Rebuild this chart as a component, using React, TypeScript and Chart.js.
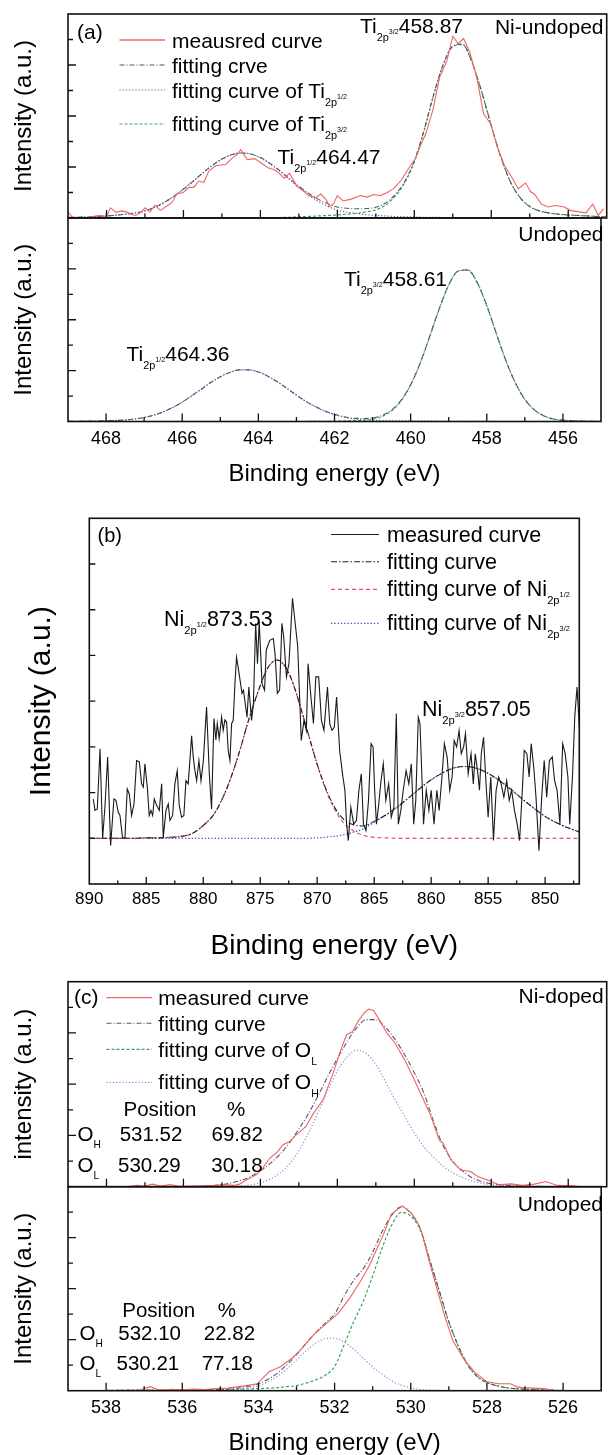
import React, { useEffect, useRef } from 'react';
import { Chart, registerables } from 'chart.js';
Chart.register(...registerables);

const FONT = '"Liberation Sans", Arial, Helvetica, sans-serif';
Chart.defaults.font.family = FONT;
Chart.defaults.color = '#000';

// ---------------- tick values ----------------
const tiXTicks = [468, 467, 466, 465, 464, 463, 462, 461, 460, 459, 458, 457, 456];
const tiXLabels = [468, 466, 464, 462, 460, 458, 456];
const niXTicks = [887.5, 885, 882.5, 880, 877.5, 875, 872.5, 870, 867.5, 865, 862.5, 860, 857.5, 855, 852.5, 850, 847.5];
const niXLabels = [890, 885, 880, 875, 870, 865, 860, 855, 850];
const oXTicks = [538, 537, 536, 535, 534, 533, 532, 531, 530, 529, 528, 527, 526];
const oXLabels = [538, 536, 534, 532, 530, 528, 526];
const stackYTicks = [1, 2, 3, 4, 5, 6, 7];
const stackYMajor = [2, 4, 6];
const niYTicks = [0, 1, 2, 3, 4, 5, 6];

// ---------------- panel (a): Ti 2p ----------------
const tiNiMeasE = [469.0, 468.9, 468.75, 468.6, 468.45, 468.3, 468.15, 468.0, 467.9, 467.75, 467.6, 467.5, 467.35, 467.25, 467.1, 467.0, 466.87, 466.74, 466.6, 466.45, 466.3, 466.17, 466.0, 465.86, 465.73, 465.6, 465.47, 465.34, 465.16, 465.03, 464.9, 464.73, 464.6, 464.51, 464.34, 464.15, 463.97, 463.79, 463.65, 463.52, 463.38, 463.24, 463.06, 462.88, 462.74, 462.56, 462.43, 462.3, 462.2, 462.1, 462.0, 461.85, 461.62, 461.4, 461.22, 461.06, 460.88, 460.7, 460.54, 460.34, 460.15, 459.97, 459.85, 459.7, 459.52, 459.34, 459.15, 459.0, 458.86, 458.72, 458.56, 458.38, 458.2, 458.02, 457.84, 457.66, 457.47, 457.3, 457.11, 456.97, 456.88, 456.7, 456.52, 456.34, 456.1, 455.95, 455.72, 455.54, 455.36, 455.22, 455.08];
const tiNiMeasI = [0.24, 0.05, 0.0, 0.02, 0.0, 0.08, 0.1, 0.05, 0.4, 0.22, 0.28, 0.25, 0.15, 0.1, 0.22, 0.4, 0.24, 0.5, 0.3, 0.45, 0.6, 0.95, 1.0, 1.2, 1.2, 1.45, 1.4, 1.84, 2.05, 2.08, 2.1, 2.35, 2.5, 2.68, 2.29, 2.33, 2.15, 1.96, 1.9, 1.76, 1.56, 1.76, 1.25, 1.06, 0.87, 0.8, 0.94, 0.74, 0.45, 0.55, 0.88, 0.67, 0.75, 0.88, 0.82, 0.92, 0.88, 1.0, 1.15, 1.48, 1.94, 2.33, 2.8, 3.31, 4.22, 5.53, 6.18, 7.13, 6.84, 7.04, 6.51, 5.53, 4.09, 3.7, 2.78, 2.07, 1.61, 1.15, 1.37, 1.02, 0.94, 0.55, 0.43, 0.49, 0.43, 0.3, 0.24, 0.2, 0.55, 0.1, 0.37];

const tiFitE = [469, 468.75, 468.5, 468.25, 468, 467.75, 467.5, 467.25, 467, 466.75, 466.5, 466.25, 466, 465.75, 465.5, 465.25, 465, 464.75, 464.5, 464.25, 464, 463.75, 463.5, 463.25, 463, 462.75, 462.5, 462.25, 462, 461.75, 461.5, 461.25, 461, 460.75, 460.5, 460.25, 460, 459.75, 459.5, 459.25, 459, 458.75, 458.5, 458.25, 458, 457.75, 457.5, 457.25, 457, 456.75, 456.5, 456.25, 456, 455.75, 455.5, 455.25, 455];
const tiNi2p12 = [0.02, 0.03, 0.04, 0.06, 0.08, 0.11, 0.15, 0.2, 0.28, 0.42, 0.61, 0.85, 1.13, 1.44, 1.76, 2.06, 2.31, 2.48, 2.55, 2.51, 2.36, 2.13, 1.84, 1.52, 1.2, 0.91, 0.66, 0.46, 0.31, 0.23, 0.18, 0.13, 0.1, 0.08, 0.06, 0.05, 0.04, 0.03, 0.03, 0.02, 0.02, 0.02, 0.01, 0.01, 0.01, 0.01, 0, 0, 0, 0, 0, 0, 0, 0, 0, 0, 0];
const tiNi2p32 = [0, 0, 0, 0, 0, 0, 0, 0, 0, 0, 0, 0, 0, 0, 0, 0, 0, 0, 0, 0, 0.01, 0.01, 0.02, 0.03, 0.05, 0.06, 0.08, 0.1, 0.12, 0.15, 0.18, 0.24, 0.32, 0.5, 0.85, 1.38, 2.2, 3.4, 4.8, 6.0, 6.72, 6.8, 6.1, 4.95, 3.62, 2.38, 1.41, 0.8, 0.45, 0.28, 0.2, 0.15, 0.12, 0.1, 0.08, 0.06, 0.05];
const tiNiFit = [0.02, 0.03, 0.04, 0.06, 0.08, 0.11, 0.15, 0.2, 0.28, 0.42, 0.61, 0.85, 1.13, 1.44, 1.76, 2.06, 2.31, 2.48, 2.55, 2.51, 2.37, 2.14, 1.86, 1.55, 1.25, 0.97, 0.74, 0.56, 0.43, 0.38, 0.36, 0.37, 0.42, 0.58, 0.91, 1.43, 2.24, 3.43, 4.83, 6.02, 6.74, 6.82, 6.11, 4.96, 3.63, 2.39, 1.41, 0.8, 0.45, 0.28, 0.2, 0.15, 0.12, 0.1, 0.08, 0.06, 0.05];
const tiUn2p12 = [0.01, 0.01, 0.02, 0.02, 0.03, 0.04, 0.06, 0.1, 0.16, 0.25, 0.38, 0.55, 0.76, 1.01, 1.27, 1.53, 1.76, 1.93, 2.03, 2.03, 1.95, 1.78, 1.56, 1.3, 1.04, 0.79, 0.58, 0.4, 0.27, 0.17, 0.1, 0.07, 0.05, 0.04, 0.03, 0.03, 0.02, 0.02, 0.02, 0.01, 0.01, 0.01, 0.01, 0.01, 0.01, 0, 0, 0, 0, 0, 0, 0, 0, 0, 0, 0, 0];
const tiUn2p32 = [0, 0, 0, 0, 0, 0, 0, 0, 0, 0, 0, 0, 0, 0, 0, 0, 0, 0, 0, 0, 0, 0, 0, 0, 0, 0, 0.01, 0.01, 0.01, 0.02, 0.03, 0.05, 0.09, 0.2, 0.42, 0.81, 1.43, 2.28, 3.33, 4.42, 5.36, 5.91, 5.95, 5.45, 4.55, 3.46, 2.4, 1.52, 0.87, 0.46, 0.22, 0.1, 0.05, 0.03, 0.02, 0.01, 0.01];
const tiUnFit = [0.01, 0.01, 0.02, 0.02, 0.03, 0.04, 0.06, 0.1, 0.16, 0.25, 0.38, 0.55, 0.76, 1.01, 1.27, 1.53, 1.76, 1.93, 2.03, 2.03, 1.95, 1.78, 1.56, 1.3, 1.04, 0.79, 0.59, 0.41, 0.28, 0.19, 0.13, 0.12, 0.14, 0.24, 0.45, 0.84, 1.45, 2.3, 3.35, 4.43, 5.37, 5.92, 5.96, 5.46, 4.56, 3.46, 2.4, 1.52, 0.87, 0.46, 0.22, 0.1, 0.05, 0.03, 0.02, 0.01, 0.01];

// ---------------- panel (b): Ni 2p ----------------
const niMeasE = [889.65, 889.5, 889.3, 889.06, 888.83, 888.63, 888.39, 888.13, 887.84, 887.66, 887.46, 887.31, 887.08, 886.87, 886.67, 886.49, 886.29, 886.08, 885.85, 885.61, 885.41, 885.26, 885.12, 884.91, 884.74, 884.59, 884.44, 884.3, 884.09, 883.86, 883.65, 883.51, 883.27, 883.07, 882.92, 882.69, 882.49, 882.28, 882.11, 881.9, 881.7, 881.52, 881.32, 881.02, 880.88, 880.73, 880.58, 880.38, 880.2, 880.0, 879.85, 879.71, 879.47, 879.27, 879.06, 878.89, 878.77, 878.6, 878.39, 878.25, 878.1, 877.95, 877.81, 877.66, 877.51, 877.37, 877.22, 877.08, 876.9, 876.6, 876.47, 876.16, 876.0, 875.76, 875.6, 875.4, 875.24, 875.09, 874.84, 874.62, 874.47, 874.16, 873.85, 873.7, 873.5, 873.3, 873.1, 872.94, 872.7, 872.48, 872.17, 871.96, 871.71, 871.4, 871.16, 870.95, 870.8, 870.55, 870.33, 870.12, 869.87, 869.63, 869.41, 869.1, 868.9, 868.7, 868.5, 868.3, 868.03, 867.78, 867.57, 867.42, 867.27, 867.05, 866.8, 866.56, 866.34, 866.13, 865.94, 865.72, 865.5, 865.27, 865.1, 864.96, 864.8, 864.6, 864.4, 864.2, 863.98, 863.73, 863.5, 863.27, 863.06, 862.88, 862.66, 862.45, 862.2, 861.96, 861.74, 861.53, 861.35, 861.13, 860.98, 860.82, 860.67, 860.43, 860.2, 860.0, 859.75, 859.5, 859.3, 859.08, 858.84, 858.6, 858.37, 858.16, 857.98, 857.76, 857.55, 857.36, 857.15, 856.99, 856.75, 856.5, 856.3, 856.13, 855.9, 855.76, 855.6, 855.4, 855.2, 855.0, 854.77, 854.53, 854.3, 854.08, 853.86, 853.62, 853.37, 853.15, 852.94, 852.69, 852.45, 852.24, 852.0, 851.83, 851.6, 851.4, 851.22, 851.0, 850.8, 850.54, 850.3, 850.08, 849.86, 849.62, 849.37, 849.17, 848.95, 848.7, 848.46, 848.24, 848.0, 847.84, 847.6, 847.4, 847.2, 846.98];
const niMeasI = [0.86, 0.61, 0.64, 1.96, 0.0, 0.68, 1.78, -0.16, 0.86, 0.83, 0.57, 0.5, 0.0, 0.02, 1.08, 0.97, 0.5, 0.75, 1.7, 1.67, 1.19, 1.12, 1.63, 1.12, 0.5, 0.61, 0.5, 0.86, 0.72, 0.61, 1.19, 0.02, 0.61, 0.75, 0.39, 0.5, 1.19, 1.48, 0.72, 0.46, 0.5, 1.26, 1.19, 2.24, 1.78, 1.48, 1.26, 1.7, 1.26, 1.67, 2.29, 2.87, 1.41, 0.64, 2.62, 2.15, 2.51, 2.18, 2.65, 2.36, 2.59, 2.54, 1.92, 1.7, 2.51, 2.58, 3.38, 3.96, 3.68, 3.17, 3.24, 2.65, 3.31, 2.58, 2.95, 4.7, 3.82, 4.74, 3.38, 3.24, 4.12, 4.33, 4.37, 4.04, 3.17, 3.24, 4.7, 4.41, 3.53, 3.82, 5.25, 4.77, 4.19, 2.14, 2.58, 2.36, 3.82, 3.09, 2.51, 3.53, 3.53, 2.58, 2.36, 3.31, 2.51, 2.36, 2.43, 3.09, 1.92, 1.41, 1.05, 0.31, -0.05, 0.68, 0.31, 0.39, 1.05, 1.41, 0.31, 0.17, 0.83, 2.07, 2.0, 1.05, 0.31, 0.75, 1.26, 1.63, 0.83, 1.19, 0.46, 0.68, 2.73, 0.31, 0.61, 1.05, 1.48, 1.19, 1.63, 0.31, 0.83, 2.65, 2.51, 1.41, 0.31, 1.05, 0.61, 1.05, 0.31, 1.05, 0.61, 1.26, 2.07, 1.78, 1.05, 1.34, 2.14, 2.0, 2.36, 1.85, 2.0, 2.29, 1.41, 1.85, 1.19, 1.85, 1.41, 1.05, 1.85, 2.21, 1.26, 0.46, 1.34, -0.05, 1.05, 1.34, 1.19, 0.9, 1.26, 0.83, 1.05, 0.61, 0.31, -0.05, 1.05, 1.92, 1.85, 1.34, 2.07, 1.56, 0.9, -0.27, 0.9, 1.7, 0.9, 1.7, 1.78, 1.26, 1.05, 0.31, 2.07, 1.85, 1.34, 0.31, 1.34, 2.65, 3.31, 2.36];
const niFitE = [890, 889, 888, 887, 886, 885, 884, 883, 882, 881, 880, 879, 878, 877, 876, 875, 874.5, 874, 873.5, 873, 872.5, 872, 871, 870, 869, 868, 867, 866, 865, 864, 863, 862, 861, 860, 859, 858, 857, 856, 855, 854, 853, 852, 851, 850, 849, 848, 847];
const niFit2p12 = [0, 0, 0, 0, 0, 0.01, 0.01, 0.02, 0.04, 0.1, 0.28, 0.55, 1.05, 1.75, 2.6, 3.34, 3.65, 3.84, 3.9, 3.82, 3.62, 3.3, 2.47, 1.61, 0.91, 0.44, 0.19, 0.07, 0.02, 0.01, 0, 0, 0, 0, 0, 0, 0, 0, 0, 0, 0, 0, 0, 0, 0, 0, 0];
const niFit2p32 = [0, 0, 0, 0, 0, 0, 0, 0, 0, 0, 0, 0, 0, 0, 0, 0, 0, 0, 0, 0, 0, 0, 0, 0.01, 0.03, 0.06, 0.12, 0.2, 0.35, 0.5, 0.68, 0.88, 1.09, 1.28, 1.43, 1.54, 1.57, 1.53, 1.42, 1.26, 1.07, 0.86, 0.66, 0.48, 0.34, 0.23, 0.14];
const niFitSum = [0, 0, 0, 0, 0, 0.01, 0.01, 0.02, 0.04, 0.1, 0.28, 0.55, 1.05, 1.75, 2.6, 3.34, 3.65, 3.84, 3.9, 3.82, 3.62, 3.3, 2.47, 1.62, 0.94, 0.5, 0.31, 0.27, 0.37, 0.51, 0.68, 0.88, 1.09, 1.28, 1.43, 1.54, 1.57, 1.53, 1.42, 1.26, 1.07, 0.86, 0.66, 0.48, 0.34, 0.23, 0.14];

// ---------------- panel (c): O 1s ----------------
const oNiMeasE = [537.48, 537.2, 537.0, 536.8, 536.6, 536.35, 536.1, 535.8, 535.5, 535.2, 534.9, 534.7, 534.54, 534.37, 534.11, 533.94, 533.76, 533.55, 533.42, 533.24, 533.07, 532.82, 532.62, 532.37, 532.11, 531.91, 531.76, 531.61, 531.46, 531.31, 531.19, 531.06, 530.91, 530.71, 530.5, 530.25, 530.0, 529.8, 529.6, 529.35, 529.25, 529.05, 528.8, 528.54, 528.34, 528.09, 527.79, 527.49, 527.19, 526.88, 526.58, 526.28, 525.88, 525.68];
const oNiMeasI = [0.0, 0.05, 0.03, 0.1, 0.03, 0.08, 0.02, 0.03, 0.04, 0.05, 0.08, 0.05, 0.1, 0.26, 0.46, 0.72, 1.11, 1.37, 1.63, 1.76, 2.02, 2.34, 2.87, 3.39, 4.43, 5.34, 5.93, 6.05, 6.45, 6.77, 6.93, 6.88, 6.51, 5.99, 5.6, 4.95, 4.17, 3.52, 2.87, 1.82, 1.7, 1.04, 0.65, 0.59, 0.39, 0.26, 0.07, 0.11, 0.05, 0.1, 0.2, 0.05, 0.04, 0.0];
const oNiFitE = [536, 535.75, 535.5, 535.25, 535, 534.75, 534.5, 534.25, 534, 533.75, 533.5, 533.25, 533, 532.75, 532.5, 532.25, 532, 531.75, 531.5, 531.25, 531, 530.75, 530.5, 530.25, 530, 529.75, 529.5, 529.25, 529, 528.75, 528.5, 528.25, 528, 527.75, 527.5, 527.25, 527, 526.5, 526];
const oNiFit = [0, 0.01, 0.02, 0.04, 0.08, 0.15, 0.25, 0.4, 0.62, 0.9, 1.25, 1.7, 2.25, 2.85, 3.55, 4.3, 5.0, 5.65, 6.2, 6.52, 6.52, 6.22, 5.75, 5.15, 4.45, 3.65, 2.55, 1.6, 1.0, 0.62, 0.35, 0.2, 0.12, 0.08, 0.05, 0.03, 0.02, 0.01, 0];
const oNiOH = [0, 0, 0, 0.01, 0.01, 0.02, 0.03, 0.07, 0.15, 0.3, 0.52, 0.88, 1.41, 2.1, 2.9, 3.75, 4.52, 5.05, 5.33, 5.2, 4.77, 4.1, 3.4, 2.75, 2.1, 1.55, 1.15, 0.8, 0.55, 0.36, 0.22, 0.13, 0.08, 0.05, 0.02, 0.01, 0, 0, 0];

const oUnMeasE = [537.75, 537.4, 537.1, 536.84, 536.6, 536.3, 536.04, 535.7, 535.4, 535.13, 534.8, 534.6, 534.33, 534.03, 533.88, 533.72, 533.42, 533.12, 532.82, 532.52, 532.22, 531.91, 531.61, 531.31, 531.11, 530.91, 530.71, 530.51, 530.22, 530.0, 529.8, 529.7, 529.5, 529.3, 529.1, 528.9, 528.59, 528.29, 528.0, 527.69, 527.39, 527.2, 527.09, 526.8, 526.48, 526.23];
const oUnMeasI = [0.0, 0.02, 0.03, 0.16, 0.02, 0.05, 0.04, 0.06, 0.05, 0.08, 0.1, 0.14, 0.2, 0.27, 0.5, 0.74, 0.94, 1.27, 1.72, 2.24, 2.63, 3.02, 3.61, 4.32, 4.84, 5.5, 6.15, 6.93, 7.25, 6.99, 6.54, 6.15, 4.98, 3.93, 2.89, 1.98, 1.2, 0.68, 0.35, 0.27, 0.27, 0.15, 0.12, 0.1, 0.08, 0.0];
const oUnFitE = [538, 537.5, 537, 536.5, 536, 535.5, 535, 534.75, 534.5, 534.25, 534, 533.75, 533.5, 533.25, 533, 532.75, 532.5, 532.25, 532, 531.75, 531.5, 531.25, 531, 530.75, 530.5, 530.25, 530, 529.75, 529.5, 529.25, 529, 528.75, 528.5, 528.25, 528, 527.75, 527.5, 527, 526.5, 526];
const oUnOH = [0, 0, 0, 0, 0, 0.01, 0.01, 0.02, 0.05, 0.1, 0.19, 0.35, 0.57, 0.86, 1.21, 1.56, 1.86, 2.04, 2.06, 1.91, 1.63, 1.28, 0.93, 0.64, 0.38, 0.22, 0.11, 0.05, 0.02, 0.01, 0, 0, 0, 0, 0, 0, 0, 0, 0, 0];
const oUnOL = [0.01, 0.02, 0.02, 0.03, 0.03, 0.04, 0.04, 0.05, 0.06, 0.07, 0.08, 0.1, 0.12, 0.16, 0.2, 0.3, 0.42, 0.6, 0.95, 1.8, 2.7, 3.5, 4.5, 5.6, 6.5, 6.99, 6.85, 6.3, 5.1, 3.9, 2.7, 1.75, 1.0, 0.55, 0.32, 0.2, 0.12, 0.06, 0.03, 0.01];
const oUnFit = [0.01, 0.02, 0.02, 0.03, 0.03, 0.05, 0.05, 0.07, 0.11, 0.17, 0.27, 0.45, 0.69, 1.02, 1.41, 1.86, 2.28, 2.64, 3.01, 3.71, 4.33, 4.78, 5.43, 6.24, 6.88, 7.21, 6.96, 6.35, 5.12, 3.91, 2.7, 1.75, 1.0, 0.55, 0.32, 0.2, 0.12, 0.06, 0.03, 0.01];

// ---------------- styles ----------------
const RED = '#f06464';
const FITC = '#55556a';
const BLUEDOT = '#5c5cb0';
const GREEN = '#3aa65c';
const LAV = '#8c8ce0';
const PINK = '#e8488c';
const NIBLUE = '#4a4ad0';
const DASHDOT = [5, 2, 1, 2];
const DOT = [1.2, 2];
const DASH = [3, 2];

type Series = { e: number[]; v: number[]; color: string; dash?: number[]; width?: number; smooth?: boolean };

function pts(e: number[], v: number[]) {
  return e.map((x, i) => ({ x, y: v[i] }));
}

type FrameOpts = { xTicks: number[]; xMajor: number[]; yTicks: number[]; yMajor: number[]; xLong: number; xShort: number; yLong: number; yShort: number };

function makeFrame(o: FrameOpts) {
  return {
    id: 'frameTicks',
    afterDraw(chart: any) {
      const { ctx, chartArea } = chart;
      const { left, right, top, bottom } = chartArea;
      const xs = chart.scales.x;
      const ys = chart.scales.y;
      ctx.save();
      ctx.strokeStyle = '#111';
      ctx.lineWidth = 1.3;
      ctx.beginPath();
      for (const v of o.xTicks) {
        const px = xs.getPixelForValue(v);
        const len = o.xMajor.includes(v) ? o.xLong : o.xShort;
        ctx.moveTo(px, bottom);
        ctx.lineTo(px, bottom - len);
      }
      for (const v of o.yTicks) {
        const py = ys.getPixelForValue(v);
        const len = o.yMajor.includes(v) ? o.yLong : o.yShort;
        ctx.moveTo(left, py);
        ctx.lineTo(left + len, py);
      }
      ctx.stroke();
      ctx.lineWidth = 1.6;
      ctx.strokeRect(left, top, right - left, bottom - top);
      ctx.restore();
    },
  };
}

type XAxisOpts = { height: number; labels: number[]; step: number; fontSize: number; pad: number; title: string; titleSize: number; titlePad: number };

type PanelOpts = {
  series: Series[];
  xMin: number; xMax: number; yMin: number; yMax: number;
  padding: { left: number; right: number; top: number; bottom: number };
  yWidth: number; yTitle: string; yTitleSize: number; yTitlePad: number;
  xAxis?: XAxisOpts;
  frame: FrameOpts;
};

function buildChart(canvas: HTMLCanvasElement, p: PanelOpts) {
  const datasets = p.series.map((s) => ({
    data: pts(s.e, s.v),
    borderColor: s.color,
    borderWidth: s.width ?? 1.1,
    borderDash: s.dash ?? [],
    pointRadius: 0,
    fill: false,
    tension: 0,
    cubicInterpolationMode: s.smooth ? 'monotone' : 'default',
  }));
  const x: any = {
    type: 'linear', min: p.xMin, max: p.xMax, reverse: true,
    display: !!p.xAxis,
    grid: { display: false, drawTicks: false }, border: { display: false },
  };
  if (p.xAxis) {
    const xa = p.xAxis;
    Object.assign(x, {
      position: 'bottom',
      ticks: {
        stepSize: xa.step, autoSkip: false, maxRotation: 0, minRotation: 0, includeBounds: false,
        padding: xa.pad, color: '#000', font: { size: xa.fontSize, family: FONT },
        callback: (v: number) => (xa.labels.some((l) => Math.abs(l - v) < 1e-6) ? String(v) : ''),
      },
      title: { display: true, text: xa.title, color: '#000', font: { size: xa.titleSize, family: FONT }, padding: { top: 0, bottom: xa.titlePad } },
      afterFit: (s: any) => { s.height = xa.height; },
    });
  }
  const y: any = {
    type: 'linear', min: p.yMin, max: p.yMax, position: 'left',
    ticks: { display: false }, grid: { display: false, drawTicks: false }, border: { display: false },
    title: { display: true, text: p.yTitle, color: '#000', font: { size: p.yTitleSize, family: FONT }, padding: { top: p.yTitlePad, bottom: 0 } },
    afterFit: (s: any) => { s.width = p.yWidth; },
  };
  return new Chart(canvas, {
    type: 'line',
    data: { datasets: datasets as any },
    options: {
      responsive: false, animation: false, devicePixelRatio: 1, events: [],
      layout: { padding: p.padding },
      plugins: { legend: { display: false }, tooltip: { enabled: false } },
      scales: { x, y },
    } as any,
    plugins: [makeFrame(p.frame)],
  });
}

function ChartCanvas({ top, height, opts }: { top: number; height: number; opts: PanelOpts }) {
  const ref = useRef<HTMLCanvasElement>(null);
  useEffect(() => {
    const ch = buildChart(ref.current as HTMLCanvasElement, opts);
    return () => ch.destroy();
  }, []);
  return <canvas ref={ref} width={608} height={height} style={{ position: 'absolute', left: 0, top, width: 608, height, display: 'block' }} />;
}

function Label({ x, y, size = 21, right = false, children }: { x: number; y: number; size?: number; right?: boolean; children: any }) {
  const style: any = { position: 'absolute', top: y - size * 0.59, fontSize: size, lineHeight: `${size * 1.2}px`, whiteSpace: 'nowrap', color: '#000', fontFamily: FONT };
  if (right) { style.right = 608 - x; style.textAlign = 'right'; } else style.left = x;
  return <div style={style}>{children}</div>;
}

function Chem({ el, sub, frac, size }: { el: string; sub: string; frac?: string; size: number }) {
  return (
    <>
      {el}
      <span style={{ fontSize: size * 0.52, verticalAlign: -size * 0.36, lineHeight: 0 }}>{sub}</span>
      {frac ? <span style={{ fontSize: size * 0.34, verticalAlign: -size * 0.04, lineHeight: 0 }}>{frac}</span> : null}
    </>
  );
}

function OSub({ s, size }: { s: string; size: number }) {
  return (<>O<span style={{ fontSize: size * 0.5, verticalAlign: -size * 0.36, lineHeight: 0 }}>{s}</span></>);
}

const frameA: FrameOpts = { xTicks: tiXTicks, xMajor: tiXLabels, yTicks: stackYTicks, yMajor: stackYMajor, xLong: 8, xShort: 4.5, yLong: 8, yShort: 5 };
const frameB: FrameOpts = { xTicks: niXTicks, xMajor: niXLabels, yTicks: niYTicks, yMajor: niYTicks, xLong: 7, xShort: 3.5, yLong: 6, yShort: 6 };
const frameC: FrameOpts = { xTicks: oXTicks, xMajor: oXLabels, yTicks: stackYTicks, yMajor: stackYMajor, xLong: 8, xShort: 4.5, yLong: 8, yShort: 5 };

const optsA1: PanelOpts = {
  series: [
    { e: tiNiMeasE, v: tiNiMeasI, color: RED, width: 1.1 },
    { e: tiFitE, v: tiNiFit, color: FITC, dash: DASHDOT, smooth: true },
    { e: tiFitE, v: tiNi2p12, color: BLUEDOT, dash: DOT, smooth: true, width: 1.2 },
    { e: tiFitE, v: tiNi2p32, color: GREEN, dash: DASH, smooth: true, width: 1.2 },
  ],
  xMin: 455, xMax: 469, yMin: 0, yMax: 8,
  padding: { left: 0, right: 1.3, top: 14, bottom: 8 },
  yWidth: 68, yTitle: 'Intensity (a.u.)', yTitleSize: 24, yTitlePad: 9.6,
  frame: frameA,
};
const optsA2: PanelOpts = {
  series: [
    { e: tiFitE, v: tiUnFit, color: FITC, dash: DASHDOT, smooth: true },
    { e: tiFitE, v: tiUn2p12, color: BLUEDOT, dash: DOT, smooth: true, width: 1.2 },
    { e: tiFitE, v: tiUn2p32, color: GREEN, dash: DASH, smooth: true, width: 1.2 },
  ],
  xMin: 455, xMax: 469, yMin: 0, yMax: 8,
  padding: { left: 0, right: 1.3, top: 8, bottom: 0 },
  yWidth: 68, yTitle: 'Intensity (a.u.)', yTitleSize: 24, yTitlePad: 9.6,
  xAxis: { height: 78.5, labels: tiXLabels, step: 1, fontSize: 18, pad: 7, title: 'Binding energy (eV)', titleSize: 24, titlePad: 11.6 },
  frame: frameA,
};
const optsB: PanelOpts = {
  series: [
    { e: niMeasE, v: niMeasI, color: '#1a1a1a', width: 1.1 },
    { e: niFitE, v: niFitSum, color: '#222', dash: [6, 2, 1.5, 2], smooth: true },
    { e: niFitE, v: niFit2p12, color: PINK, dash: [4, 3], smooth: true, width: 1.2 },
    { e: niFitE, v: niFit2p32, color: NIBLUE, dash: [1.3, 2], smooth: true, width: 1.2 },
  ],
  xMin: 847, xMax: 890, yMin: -1, yMax: 7,
  padding: { left: 0, right: 28.7, top: 18.3, bottom: 0 },
  yWidth: 89.3, yTitle: 'Intensity (a.u.)', yTitleSize: 30, yTitlePad: 24,
  xAxis: { height: 86, labels: niXLabels, step: 2.5, fontSize: 17, pad: 4.8, title: 'Binding energy (eV)', titleSize: 28, titlePad: 7.2 },
  frame: frameB,
};
const optsC1: PanelOpts = {
  series: [
    { e: oNiMeasE, v: oNiMeasI, color: RED, width: 1.1 },
    { e: oNiFitE, v: oNiFit, color: FITC, dash: DASHDOT, smooth: true },
    { e: oNiFitE, v: oNiOH, color: LAV, dash: DOT, smooth: true, width: 1.2 },
  ],
  xMin: 525, xMax: 539, yMin: 0, yMax: 8,
  padding: { left: 0, right: 1.3, top: 11.7, bottom: 7.3 },
  yWidth: 68, yTitle: 'intensity (a.u.)', yTitleSize: 24, yTitlePad: 9.6,
  frame: frameC,
};
const optsC2: PanelOpts = {
  series: [
    { e: oUnMeasE, v: oUnMeasI, color: RED, width: 1.1 },
    { e: oUnFitE, v: oUnFit, color: FITC, dash: DASHDOT, smooth: true },
    { e: oUnFitE, v: oUnOH, color: LAV, dash: DOT, smooth: true, width: 1.2 },
    { e: oUnFitE, v: oUnOL, color: GREEN, dash: DASH, smooth: true, width: 1.2 },
  ],
  xMin: 525, xMax: 539, yMin: 0, yMax: 8,
  padding: { left: 0, right: 1.3, top: 6.7, bottom: 0 },
  yWidth: 68, yTitle: 'Intensity (a.u.)', yTitleSize: 24, yTitlePad: 9.6,
  xAxis: { height: 79.3, labels: oXLabels, step: 1, fontSize: 18, pad: 6.8, title: 'Binding energy (eV)', titleSize: 24, titlePad: 12.3 },
  frame: frameC,
};

export default function App() {
  return (
    <div style={{ position: 'absolute', left: 0, top: 0, width: 608, height: 1455, overflow: 'hidden', background: '#fff', fontFamily: FONT }}>
      <ChartCanvas top={0} height={226} opts={optsA1} />
      <ChartCanvas top={210} height={290} opts={optsA2} />
      <ChartCanvas top={500} height={470} opts={optsB} />
      <ChartCanvas top={970} height={224} opts={optsC1} />
      <ChartCanvas top={1180} height={290} opts={optsC2} />

      <svg width={608} height={1455} style={{ position: 'absolute', left: 0, top: 0, pointerEvents: 'none' }}>
        {/* legend (a) */}
        <line x1={119.5} x2={165} y1={40} y2={40} stroke={RED} strokeWidth={1.3} />
        <line x1={119.5} x2={165} y1={65} y2={65} stroke={FITC} strokeWidth={1.1} strokeDasharray="5 2 1 2" />
        <line x1={119.5} x2={165} y1={90} y2={90} stroke={BLUEDOT} strokeWidth={1.2} strokeDasharray="1.2 2" />
        <line x1={119.5} x2={165} y1={124} y2={124} stroke={GREEN} strokeWidth={1.2} strokeDasharray="3 2" />
        {/* legend (b) */}
        <line x1={331} x2={379} y1={534.5} y2={534.5} stroke="#1a1a1a" strokeWidth={1.2} />
        <line x1={331} x2={379} y1={561.7} y2={561.7} stroke="#222" strokeWidth={1.1} strokeDasharray="6 2 1.5 2" />
        <line x1={331} x2={379} y1={589.3} y2={589.3} stroke={PINK} strokeWidth={1.2} strokeDasharray="4 3" />
        <line x1={331} x2={379} y1={623.3} y2={623.3} stroke={NIBLUE} strokeWidth={1.2} strokeDasharray="1.3 2" />
        {/* legend (c) */}
        <line x1={106.5} x2={152} y1={997.7} y2={997.7} stroke={RED} strokeWidth={1.3} />
        <line x1={106.5} x2={152} y1={1023.3} y2={1023.3} stroke={FITC} strokeWidth={1.1} strokeDasharray="5 2 1 2" />
        <line x1={106.5} x2={152} y1={1049.3} y2={1049.3} stroke={GREEN} strokeWidth={1.2} strokeDasharray="3 2" />
        <line x1={106.5} x2={152} y1={1082.3} y2={1082.3} stroke={LAV} strokeWidth={1.2} strokeDasharray="1.2 2" />
      </svg>

      {/* panel (a) texts */}
      <Label x={77} y={31}>(a)</Label>
      <Label x={172} y={40.7}>meausred curve</Label>
      <Label x={172} y={65.7}>fitting crve</Label>
      <Label x={172} y={90.7}>fitting curve of <Chem el="Ti" sub="2p" frac="1/2" size={21} /></Label>
      <Label x={172} y={123.7}>fitting curve of <Chem el="Ti" sub="2p" frac="3/2" size={21} /></Label>
      <Label x={603.5} y={26.7} right>Ni-undoped</Label>
      <Label x={360} y={25}><Chem el="Ti" sub="2p" frac="3/2" size={21} />458.87</Label>
      <Label x={277.5} y={156.7}><Chem el="Ti" sub="2p" frac="1/2" size={21} />464.47</Label>
      <Label x={603.5} y={233.3} right>Undoped</Label>
      <Label x={344} y={278.3}><Chem el="Ti" sub="2p" frac="3/2" size={21} />458.61</Label>
      <Label x={126.5} y={353.3}><Chem el="Ti" sub="2p" frac="1/2" size={21} />464.36</Label>

      {/* panel (b) texts */}
      <Label x={97.5} y={535} size={20}>(b)</Label>
      <Label x={387} y={536} size={21.5}>measured curve</Label>
      <Label x={387} y={562.7} size={21.5}>fitting curve</Label>
      <Label x={387} y={589.3} size={21.5}>fitting curve of <Chem el="Ni" sub="2p" frac="1/2" size={21.5} /></Label>
      <Label x={387} y={623.3} size={21.5}>fitting curve of <Chem el="Ni" sub="2p" frac="3/2" size={21.5} /></Label>
      <Label x={164} y={620} size={21.5}><Chem el="Ni" sub="2p" frac="1/2" size={21.5} />873.53</Label>
      <Label x={422} y={710} size={21.5}><Chem el="Ni" sub="2p" frac="3/2" size={21.5} />857.05</Label>

      {/* panel (c) texts */}
      <Label x={74} y={996.7}>(c)</Label>
      <Label x={158.3} y={997.7}>measured curve</Label>
      <Label x={158.3} y={1023.3}>fitting curve</Label>
      <Label x={158.3} y={1049.3}>fitting curve of <OSub s="L" size={21} /></Label>
      <Label x={158.3} y={1081.7}>fitting curve of <OSub s="H" size={21} /></Label>
      <Label x={603.7} y={995} right>Ni-doped</Label>
      <Label x={123.5} y={1109} size={20.5}>Position</Label>
      <Label x={227} y={1109} size={20.5}>%</Label>
      <Label x={77.5} y={1134.3} size={20.5}><OSub s="H" size={20.5} /></Label>
      <Label x={119.7} y={1134.3} size={20.5}>531.52</Label>
      <Label x={211.5} y={1134.3} size={20.5}>69.82</Label>
      <Label x={77.5} y={1165.5} size={20.5}><OSub s="L" size={20.5} /></Label>
      <Label x={118} y={1165.5} size={20.5}>530.29</Label>
      <Label x={211.3} y={1165.5} size={20.5}>30.18</Label>

      <Label x={603} y={1203.3} right>Undoped</Label>
      <Label x={122.3} y={1310} size={20.5}>Position</Label>
      <Label x={217.7} y={1310} size={20.5}>%</Label>
      <Label x={79.5} y={1333.3} size={20.5}><OSub s="H" size={20.5} /></Label>
      <Label x={118.3} y={1333.3} size={20.5}>532.10</Label>
      <Label x={203.8} y={1333.3} size={20.5}>22.82</Label>
      <Label x={79.5} y={1363.3} size={20.5}><OSub s="L" size={20.5} /></Label>
      <Label x={116.5} y={1363.3} size={20.5}>530.21</Label>
      <Label x={201.7} y={1363.3} size={20.5}>77.18</Label>
    </div>
  );
}
